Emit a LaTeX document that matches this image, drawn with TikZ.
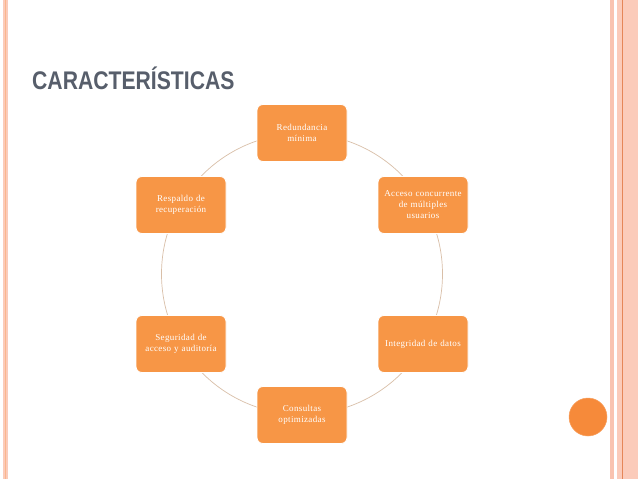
\documentclass[tikz,border=0pt]{standalone}
\usepackage{fontspec}
\newfontfamily\titlefont[FakeStretch=0.83]{Liberation Sans}
\newfontfamily\boxfont[LetterSpace=4]{Liberation Serif}
\definecolor{boxorange}{HTML}{F79646}
\definecolor{dotorange}{HTML}{F68A3A}
\definecolor{ringcol}{HTML}{D9BFA8}
\definecolor{titlegray}{HTML}{575E6B}
\definecolor{pinkA}{HTML}{FBCBBA}
\definecolor{pinkB}{HTML}{F9C3B0}
\definecolor{lineor}{HTML}{E58658}
\tikzset{
  stepbox/.style={draw=white, line width=0.8pt, fill=boxorange, rounded corners=6pt,
    minimum width=90pt, minimum height=57pt, text width=86pt, align=center,
    text=white, font=\boxfont\fontsize{9}{11}\selectfont, inner sep=2pt},
}
\begin{document}
\begin{tikzpicture}[x=1pt,y=-1pt]
\useasboundingbox (0,0) rectangle (638,479);
\fill[white] (0,0) rectangle (638,479);
% left border
\fill[pinkA] (3,0) rectangle (7.5,479);
\fill[pinkB!80!orange] (4.7,0) rectangle (5.5,479);
% right border
\fill[pinkB] (610,0) rectangle (614,479);
\fill[pinkA] (617,0) rectangle (638,479);
\fill[lineor] (622,0) rectangle (623.2,479);
% title
\node[anchor=base west, inner sep=0pt, text=titlegray, font=\titlefont\bfseries\fontsize{25.5}{25.5}\selectfont] (title) at (32,89) {CARACTERÍSTICAS};
% ring
\coordinate (ctr) at (302,274);
\draw[ringcol, line width=0.7pt] (ctr) circle (140.5);
% boxes
\node[stepbox] (n1) at (302,133) {Redundancia\\mínima};
\node[stepbox] (n2) at (423,205) {Acceso concurrente\\de múltiples\\usuarios};
\node[stepbox] (n3) at (423,344) {Integridad de datos};
\node[stepbox] (n4) at (302,415) {Consultas\\optimizadas};
\node[stepbox] (n5) at (181,344) {Seguridad de\\acceso y auditoría};
\node[stepbox] (n6) at (181,205) {Respaldo de\\recuperación};
% dot
\node[circle, fill=dotorange, draw=dotorange!80!white, line width=0.5pt, minimum size=38pt, inner sep=0pt] (dot) at (588,417) {};
\end{tikzpicture}
\end{document}
